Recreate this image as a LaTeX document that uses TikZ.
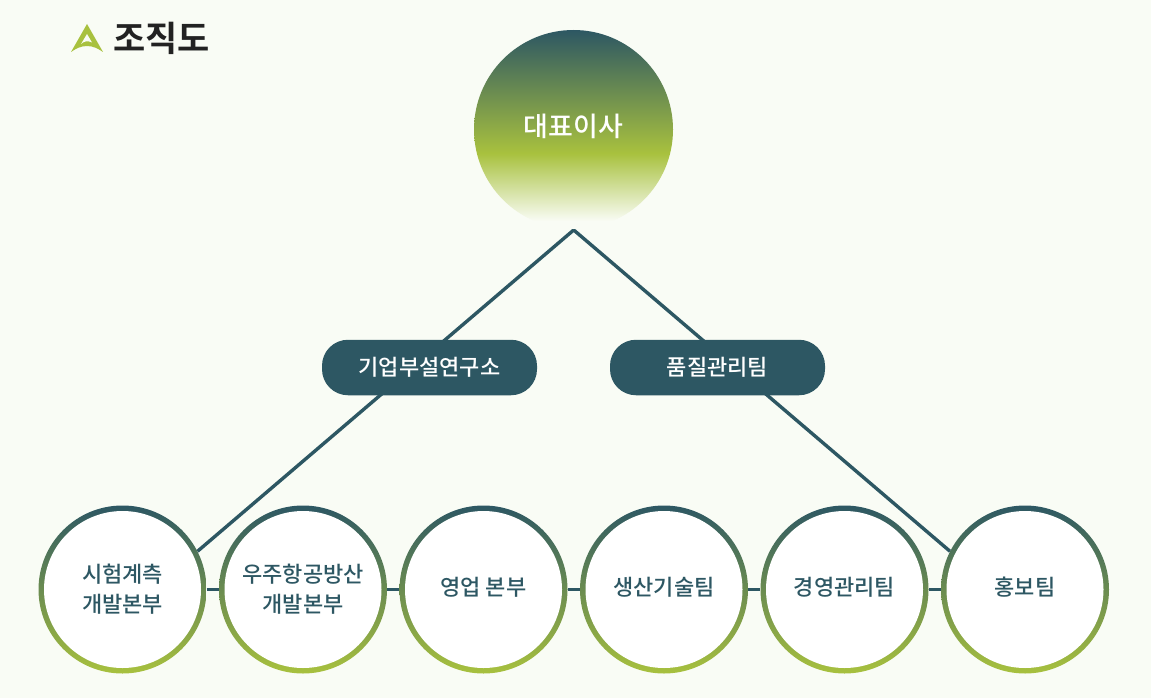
\documentclass[tikz,border=0pt]{standalone}
\usepackage{fontspec}
\setmainfont{Noto Sans CJK KR Medium}
\newfontfamily\titlefont{Noto Sans CJK KR Bold}
\usetikzlibrary{backgrounds}
\definecolor{pagebg}{HTML}{F9FCF5}
\definecolor{teal}{HTML}{2D5763}
\definecolor{lime}{HTML}{A8C13E}
\definecolor{ink}{HTML}{222222}
\newcommand{\liftline}[1]{\raisebox{6pt}{#1}}
\pgfdeclareverticalshading{bossgrad}{100bp}{color(0bp)=(pagebg); color(27bp)=(pagebg); color(44bp)=(lime); color(75bp)=(teal); color(100bp)=(teal)}
\tikzset{
  x=1pt,y=-1pt,
  link/.style={draw=teal,line width=3.4pt},
  boss/.style={circle,minimum size=199pt,inner sep=0pt,shading=bossgrad,text=white},
  pill/.style={rounded corners=26pt,minimum width=215pt,minimum height=55.5pt,inner sep=0pt,fill=teal,text=white,font=\fontsize{22}{25}\selectfont},
  team/.style={circle,minimum size=168pt,inner sep=0pt,align=center,top color=teal,bottom color=lime,text=teal,
    font=\fontsize{22}{30}\selectfont,
    path picture={\fill[white] (path picture bounding box.center) circle (78.5pt);}},
}
\begin{document}
\begin{tikzpicture}
\useasboundingbox (0,0) rectangle (1151,698);
\node[boss] (ceo) at (573.5,129.5) {\raisebox{9pt}{\fontsize{27}{30}\selectfont 대표이사}};
\coordinate (apex) at (573.7,230);
\node[pill] (lab) at (429.5,367.5) {기업부설연구소};
\node[pill] (qa) at (717.5,367.5) {품질관리팀};
\node[team] (t1) at (122.5,589.5) {시험계측\\개발본부};
\node[team] (t2) at (303,589.5) {우주항공방산\\개발본부};
\node[team] (t3) at (483.5,589.5) {\liftline{영업 본부}};
\node[team] (t4) at (664,589.5) {\liftline{생산기술팀}};
\node[team] (t5) at (844.5,589.5) {\liftline{경영관리팀}};
\node[team] (t6) at (1025,589.5) {\liftline{홍보팀}};
\node[anchor=west,inner sep=0pt,text=ink,font=\fontsize{35}{40}\selectfont\titlefont] (title) at (113,38) {조직도};
\begin{scope}[on background layer]
\fill[pagebg] (0,0) rectangle (1151,698);
\draw[link,miter limit=10] (t1.27) -- (apex) -- (t6.153);
\draw[link] (t1) -- (t2);
\draw[link] (t2) -- (t3);
\draw[link] (t3) -- (t4);
\draw[link] (t4) -- (t5);
\draw[link] (t5) -- (t6);
\end{scope}
\fill[lime] (87,24) -- (103,52) .. controls (98,48.5) and (93,46) .. (87,46) .. controls (81,46) and (76,48.5) .. (71,52) -- cycle;
\fill[pagebg] (87,34) -- (92,42.5) .. controls (88,40.5) and (84,41) .. (81,44) -- cycle;
\end{tikzpicture}
\end{document}
